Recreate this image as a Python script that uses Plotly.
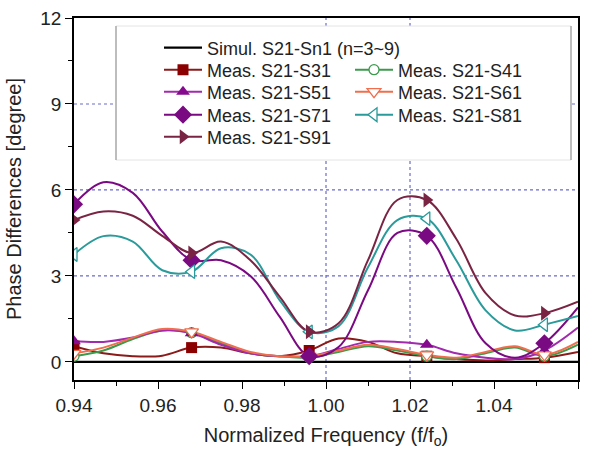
import plotly.graph_objects as go

# ---------------- data ----------------
freq = [0.940, 0.947, 0.954, 0.961, 0.968, 0.975, 0.982, 0.989, 0.996,
        1.003, 1.010, 1.017, 1.024, 1.031, 1.038, 1.045, 1.052, 1.060]
marker_idx = [0, 4, 8, 12, 16]

sim_x = [0.94, 1.06]
sim_y = [0.0, 0.0]

s31 = [0.55, 0.30, 0.20, 0.22, 0.50, 0.50, 0.30, 0.20, 0.40, 0.82, 0.70, 0.30,
       0.20, 0.10, 0.05, 0.10, 0.15, 0.35]
s41 = [0.20, 0.40, 0.80, 1.10, 1.02, 0.65, 0.30, 0.20, 0.15, 0.35, 0.55, 0.40,
       0.20, 0.10, 0.30, 0.50, 0.20, 0.60]
s51 = [0.72, 0.70, 0.85, 1.10, 1.00, 0.60, 0.30, 0.20, 0.20, 0.45, 0.70, 0.70,
       0.60, 0.30, 0.15, 0.10, 0.40, 1.20]
s61 = [0.30, 0.50, 0.85, 1.15, 1.05, 0.70, 0.35, 0.20, 0.20, 0.40, 0.60, 0.45,
       0.25, 0.15, 0.35, 0.55, 0.25, 0.70]
s71 = [5.50, 6.27, 5.90, 4.55, 3.55, 3.55, 3.00, 1.57, 0.20, 0.52, 2.50, 4.50,
       4.40, 2.60, 0.65, 0.15, 0.65, 1.90]
s81 = [3.75, 4.39, 4.20, 3.20, 3.15, 3.97, 3.75, 2.15, 1.05, 1.25, 3.30, 4.95,
       5.00, 3.55, 1.80, 1.10, 1.30, 1.60]
s91 = [4.95, 5.25, 5.10, 4.40, 3.80, 4.20, 3.55, 2.27, 1.05, 1.35, 3.55, 5.65,
       5.65, 4.30, 2.40, 1.62, 1.70, 2.10]

names = ["Meas. S21-S31", "Meas. S21-S41", "Meas. S21-S51", "Meas. S21-S61",
         "Meas. S21-S71", "Meas. S21-S81", "Meas. S21-S91"]
series = [s31, s41, s51, s61, s71, s81, s91]
sim_name = "Simul. S21-Sn1 (n=3~9)"
grid_x = [1.00, 1.02]
grid_y = [3, 6, 9]

# ---------------- styles ----------------
line_colors = ["#8b1a1a", "#3c9a4c", "#a22aae", "#f06e4e", "#7a0a82", "#2a9a9a", "#7a2444"]
mk_colors = ["#8b0000", "#3c9a4c", "#860a8e", "#f06e4e", "#7a0a82", "#2a9a9a", "#7a2444"]
symbols = ["square", "circle", "triangle-up", "triangle-down", "diamond",
           "triangle-left", "triangle-right"]
open_mk = [False, True, False, True, False, True, False]
mk_sizes = [11, 10, 12, 12, 14, 12, 13]

FONT = "Arial, 'Liberation Sans', sans-serif"
GRID = "#6a6acc"
fig = go.Figure()

# lines
fig.add_trace(go.Scatter(x=sim_x, y=sim_y, mode="lines",
                         line=dict(color="black", width=2.2),
                         showlegend=False, hoverinfo="skip"))
for ys, lc in zip(series, line_colors):
    fig.add_trace(go.Scatter(x=freq, y=ys, mode="lines",
                             line=dict(color=lc, width=2, shape="spline", smoothing=1.0),
                             showlegend=False, hoverinfo="skip"))

def mk_style(i, size=None):
    return dict(symbol=symbols[i], size=size or mk_sizes[i],
                color="white" if open_mk[i] else mk_colors[i],
                line=dict(color=mk_colors[i], width=1.3 if open_mk[i] else 0))

# markers
for i, ys in enumerate(series):
    fig.add_trace(go.Scatter(x=[freq[k] for k in marker_idx],
                             y=[ys[k] for k in marker_idx],
                             mode="markers", marker=mk_style(i), cliponaxis=True,
                             showlegend=False, hoverinfo="skip"))

# legend entries (one legend per entry, placed in a 2-column grid)
L, R, T, B = 74, 14, 18, 69
W, H = 592, 449
pw, ph = W - L - R, H - T - B
def px2x(px):
    return (px - L) / pw
def py2y(py):
    return (H - B - py) / ph

rows = [48, 70, 92, 115, 137]
cols = [159, 350]
slots = [(0, 0), (1, 0), (1, 1), (2, 0), (2, 1), (3, 0), (3, 1), (4, 0)]

legend_layouts = {}
fig.add_trace(go.Scatter(x=[None], y=[None], mode="lines", name=sim_name,
                         line=dict(color="black", width=2.2), legend="legend"))
for i in range(7):
    fig.add_trace(go.Scatter(x=[None], y=[None], mode="lines+markers", name=names[i],
                             line=dict(color=line_colors[i], width=2),
                             marker=mk_style(i),
                             legend="legend%d" % (i + 2)))
for j, (r, c) in enumerate(slots):
    key = "legend" if j == 0 else "legend%d" % (j + 1)
    legend_layouts[key] = dict(x=px2x(cols[c]), y=py2y(rows[r]), xanchor="left",
                               yanchor="middle", bgcolor="rgba(0,0,0,0)",
                               borderwidth=0, itemwidth=38,
                               font=dict(family=FONT, size=18, color="#222"))

fig.update_layout(**legend_layouts)

# dotted reference grid lines (below traces)
for gx in grid_x:
    fig.add_shape(type="line", xref="x", yref="paper", x0=gx, x1=gx, y0=0, y1=1,
                  line=dict(color=GRID, width=1.2, dash="dot"), layer="below")
for gy in grid_y:
    fig.add_shape(type="line", xref="paper", yref="y", x0=0, x1=1, y0=gy, y1=gy,
                  line=dict(color=GRID, width=1.2, dash="dot"), layer="below")

# legend frame
fig.add_shape(type="rect", xref="paper", yref="paper",
              x0=px2x(116), x1=px2x(571), y0=py2y(160), y1=py2y(26),
              fillcolor="white", line=dict(color="#e4e4e4", width=1), layer="above")
for xx in (116, 571):
    fig.add_shape(type="line", xref="paper", yref="paper",
                  x0=px2x(xx), x1=px2x(xx), y0=py2y(160), y1=py2y(26),
                  line=dict(color="#9a9a9a", width=1.2), layer="above")

axis_common = dict(showline=True, linecolor="black", linewidth=1.6, mirror=True,
                   ticks="outside", tickcolor="black", tickwidth=1.4, ticklen=7,
                   tickfont=dict(family=FONT, size=19, color="#222"),
                   zeroline=False, automargin=False, showgrid=False)

fig.update_layout(
    width=W, height=H,
    margin=dict(l=L, r=R, t=T, b=B),
    paper_bgcolor="white", plot_bgcolor="white",
    font=dict(family=FONT, color="#222"),
    xaxis=dict(range=[0.94, 1.06], dtick=0.02, tick0=0.94, tickformat=".2f",
               minor=dict(dtick=0.01, ticks="outside", ticklen=4, tickcolor="black",
                          tickwidth=1.2, showgrid=False),
               title=dict(text="Normalized Frequency (f/f<sub>o</sub>)",
                          font=dict(family=FONT, size=20, color="#222"), standoff=16),
               **axis_common),
    yaxis=dict(range=[-0.63, 12], tickvals=[0, 3, 6, 9, 12],
               minor=dict(dtick=1.5, tick0=0, ticks="outside", ticklen=4,
                          tickcolor="black", tickwidth=1.2, showgrid=False),
               title=dict(text="Phase Differences [degree]",
                          font=dict(family=FONT, size=20, color="#222"), standoff=13),
               **axis_common),
)

fig.write_html("out.html")
